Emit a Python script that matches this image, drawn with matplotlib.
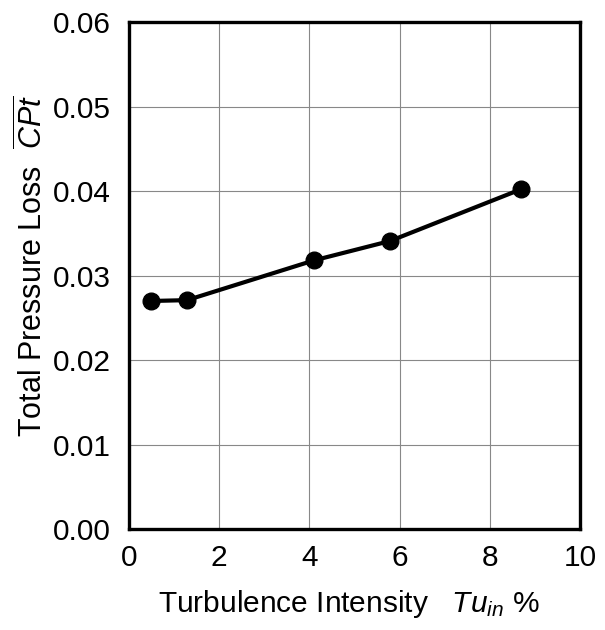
import matplotlib
matplotlib.use("Agg")
import matplotlib.pyplot as plt

plt.rcParams['font.family'] = ['Liberation Sans', 'DejaVu Sans']
plt.rcParams['mathtext.fontset'] = 'custom'
plt.rcParams['mathtext.rm'] = 'Liberation Sans'
plt.rcParams['mathtext.it'] = 'Liberation Sans:italic'

# Inlet turbulence intensity (%) and mass-averaged total pressure loss
tu_in = [0.5, 1.29, 4.1, 5.79, 8.68]
cpt_loss = [0.0270, 0.0271, 0.0318, 0.0341, 0.0402]

x_ticks = [0, 2, 4, 6, 8, 10]
y_ticks = [0.00, 0.01, 0.02, 0.03, 0.04, 0.05, 0.06]
y_tick_labels = ["0.00", "0.01", "0.02", "0.03", "0.04", "0.05", "0.06"]

fig = plt.figure(figsize=(6.05, 6.3), dpi=100)
ax = fig.add_axes([0.213, 0.160, 0.746, 0.805])

ax.plot(tu_in, cpt_loss, color='black', lw=3, marker='o', ms=12,
        markerfacecolor='black', markeredgecolor='black', zorder=3)

ax.set_xlim(0, 10)
ax.set_ylim(0, 0.06)
ax.set_xticks(x_ticks)
ax.set_yticks(y_ticks)
ax.set_yticklabels(y_tick_labels)
ax.grid(True, color='#888888', lw=0.8)
ax.tick_params(length=0, labelsize=21.5, colors='black')
ax.tick_params(axis='y', pad=13)
ax.tick_params(axis='x', pad=11)
for s in ax.spines.values():
    s.set_linewidth(2.4)
    s.set_color('black')

fig.text(349 / 605, 1 - 604 / 630, r"Turbulence Intensity   $Tu_{in}$ %",
         fontsize=21.5, ha='center', va='center')
fig.text(33 / 605, 1 - 266 / 630, r"Total Pressure Loss  $\overline{CPt}$",
         fontsize=22, ha='center', va='center', rotation=90)

fig.savefig("out.png", dpi=100)
